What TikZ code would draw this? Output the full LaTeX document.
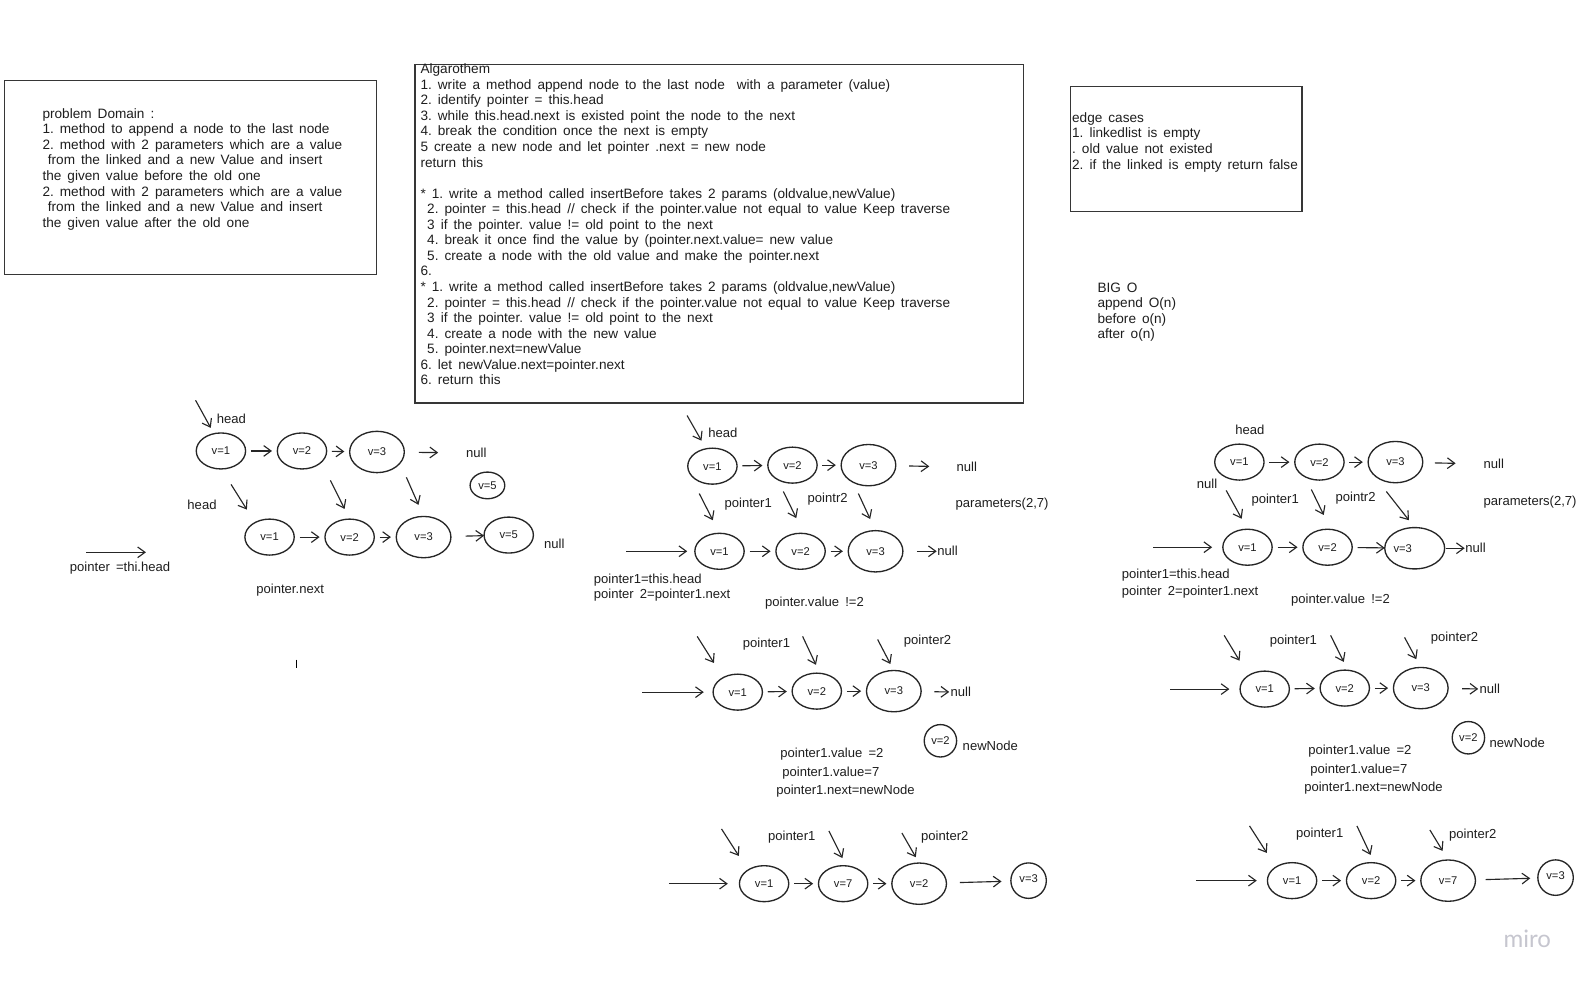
\documentclass[tikz,border=0pt]{standalone}
\usepackage{fontspec}
\setmainfont{Liberation Sans}
\newfontfamily\markfont{Lato}
\usetikzlibrary{shapes.geometric,arrows.meta}

\definecolor{ink}{HTML}{1E1E1E}
\definecolor{stroke}{HTML}{262626}
\definecolor{framec}{HTML}{363636}
\definecolor{watermark}{HTML}{C6C6CF}

% text faces with the wide word spacing of the board's handwriting
\protected\def\handfont{\fontsize{9.8}{11.67}\selectfont\frenchspacing\spaceskip=4.6pt plus 1pt\relax}
\protected\def\parafont{\fontsize{10.2}{11.67}\selectfont\frenchspacing\spaceskip=4.5pt plus 1pt\relax}

\tikzset{
  hand/.style={font=\handfont, text=ink, inner sep=0pt, outer sep=0pt},
  lbl/.style={hand, anchor=west},
  para/.style={font=\parafont, text=ink, inner sep=0pt, outer sep=0pt,
      anchor=north west, align=left},
  cell/.style={ellipse, draw=stroke, line width=1pt, inner sep=0pt, outer sep=0pt,
      minimum width=37pt, minimum height=27pt, font=\fontsize{8.4}{9}\selectfont, text=ink},
  bigcell/.style={cell, minimum width=41pt, minimum height=31pt},
  tinycell/.style={cell, minimum width=26pt, minimum height=20pt},
  roundcell/.style={cell, minimum width=#1, minimum height=#1},
  link/.style={draw=stroke, line width=0.85pt, -{Straight Barb[length=5.5pt,width=8pt]},
      shorten <=4pt, shorten >=4pt},
  drop/.style={link, shorten <=0pt, shorten >=#1},
  frame/.style={draw=framec, line width=1pt, anchor=north west, inner sep=0pt},
}

\begin{document}
\begin{tikzpicture}[x=0.76pt, y=-0.76pt]
\fill[white] (0,0) rectangle (1568,969);
\useasboundingbox (0,0) rectangle (1568,969);

% ---------- problem domain ----------
\node[frame, minimum width=278.9pt, minimum height=145.2pt] (pdbox) at (4,79) {};
\node[para] (pdtext) at (42,107) {problem Domain :\\
1. method to append a node to the last node\\
2. method with 2 parameters which are a value\\
\hspace*{4pt}from the linked and a new Value and insert\\
the given value before the old one\\
2. method with 2 parameters which are a value\\
\hspace*{4pt}from the linked and a new Value and insert\\
the given value after the old one};

% ---------- algorithm ----------
\node[frame, minimum width=456pt, minimum height=253.8pt] (algbox) at (409,63) {};
\node[para] (algtext) at (415,63) {Algarothem\\
1. write a method append node to the last node\ \ with a parameter (value)\\
2. identify pointer = this.head\\
3. while this.head.next is existed point the node to the next\\
4. break the condition once the next is empty\\
5 create a new node and let pointer .next = new node\\
return this\\[11.67pt]
* 1. write a method called insertBefore takes 2 params (oldvalue,newValue)\\
\hspace*{5pt}2. pointer = this.head // check if the pointer.value not equal to value Keep traverse\\
\hspace*{5pt}3 if the pointer. value != old point to the next\\
\hspace*{5pt}4. break it once find the value by (pointer.next.value= new value\\
\hspace*{5pt}5. create a node with the old value and make the pointer.next\\
6.\\
* 1. write a method called insertBefore takes 2 params (oldvalue,newValue)\\
\hspace*{5pt}2. pointer = this.head // check if the pointer.value not equal to value Keep traverse\\
\hspace*{5pt}3 if the pointer. value != old point to the next\\
\hspace*{5pt}4. create a node with the new value\\
\hspace*{5pt}5. pointer.next=newValue\\
6. let newValue.next=pointer.next\\
6. return this};

% ---------- edge cases and complexity ----------
\node[frame, minimum width=173.3pt, minimum height=93.5pt] (edgebox) at (1056,85) {};
\node[para] (edgetext) at (1058,111) {edge cases\\
1. linkedlist is empty\\
. old value not existed\\
2. if the linked is empty return false};
\node[para] (bigo) at (1083,279) {BIG O\\ append O(n)\\ before o(n)\\ after o(n)};

% ---------- append: list before ----------
\node[cell] (a1) at (218,445) {v=1};
\node[cell] (a2) at (298,445) {v=2};
\node[bigcell] (a3) at (372,446) {v=3};
\node[lbl] (anull) at (460,447) {null};
\node[tinycell] (a5) at (481,479) {v=5};
\node[lbl] (ahead) at (214,413) {head};
\coordinate (ahs) at (193,395);
\draw[drop=5pt] (ahs) -- (a1.112);
\draw[link] (a1) -- (a2);
\draw[link] (a2) -- (a3);
\draw[link, shorten <=11pt, shorten >=21pt] (a3) -- (anull);

% ---------- append: list after ----------
\node[cell] (b1) at (266,530) {v=1};
\node[cell] (b2) at (345,530) {v=2};
\node[bigcell] (b3) at (418,530) {v=3};
\node[cell] (b5) at (502,528) {v=5};
\node[lbl] (bnull) at (537,537) {null};
\node[lbl] (bhead) at (185,498) {head};
\draw[link] (b1) -- (b2);
\draw[link] (b2) -- (b3);
\draw[link, shorten <=11pt, shorten >=0pt] (b3) -- (b5);
\coordinate (ad1) at (228,478);
\coordinate (ad2) at (326,474);
\coordinate (ad3) at (401,471);
\draw[drop=11.5pt] (ad1) -- (b1.135);
\draw[drop=8.5pt] (ad2) -- (b2.north);
\draw[drop=9.5pt] (ad3) -- (b3.north);
\coordinate (aps) at (85,545);
\coordinate (ape) at (144,545);
\draw[link, shorten <=0pt, shorten >=0pt] (aps) -- (ape);
\node[lbl] (aptr) at (69,561) {pointer =thi.head};
\node[lbl] (anext) at (253,582) {pointer.next};
\coordinate (ticka) at (292,651);
\coordinate (tickb) at (292,659);
\draw[stroke, line width=0.6pt] (ticka) -- (tickb);

% ---------- insert: first pass ----------
\node[cell] (c1) at (703,460) {v=1};
\node[cell] (c2) at (782,459) {v=2};
\node[bigcell] (c3) at (857,459) {v=3};
\node[lbl] (cnull) at (944,461) {null};
\node[lbl] (chead) at (699,427) {head};
\coordinate (chs) at (678,410);
\draw[drop=7pt] (chs) -- (c1.110);
\draw[link] (c1) -- (c2);
\draw[link] (c2) -- (c3);
\draw[link, shorten <=10pt, shorten >=20.5pt] (c3) -- (cnull);
\node[lbl] (cp1) at (715,497) {pointer1};
\node[lbl] (cp2) at (797,493) {pointr2};
\node[lbl] (cpar) at (943,497) {parameters(2,7)};

\node[cell] (d1) at (710,544) {v=1};
\node[cell] (d2) at (790,544) {v=2};
\node[bigcell] (d3) at (864,544) {v=3};
\node[lbl] (dnull) at (925,544) {null};
\coordinate (ds) at (618,544);
\draw[drop=5.7pt] (ds) -- (d1);
\draw[link] (d1) -- (d2);
\draw[link] (d2) -- (d3);
\draw[link, shorten <=10.5pt, shorten >=0.5pt] (d3) -- (dnull);
\coordinate (cd1) at (690,487);
\coordinate (cd2) at (773,485);
\coordinate (cd3) at (847,487);
\draw[drop=11pt] (cd1) -- (d1.north);
\draw[drop=12.8pt] (cd2) -- (d2.80);
\draw[drop=9.6pt] (cd3) -- (d3.north);
\node[lbl] (dt1) at (586,572) {pointer1=this.head};
\node[lbl] (dt2) at (586,587) {pointer 2=pointer1.next};
\node[lbl] (dt3) at (755,595) {pointer.value !=2};

% ---------- insert: found the value ----------
\node[cell] (e1) at (728,683) {v=1};
\node[cell] (e2) at (806,682) {v=2};
\node[bigcell] (e3) at (882,682) {v=3};
\node[lbl] (enull) at (938,683) {null};
\coordinate (es) at (634,683);
\draw[drop=7pt] (es) -- (e1);
\draw[link] (e1) -- (e2);
\draw[link] (e2) -- (e3);
\draw[link, shorten <=10pt, shorten >=1pt] (e3) -- (enull);
\coordinate (ed1) at (688,628);
\coordinate (ed2) at (792,628);
\coordinate (ed3) at (866,631);
\draw[drop=13pt] (ed1) -- (e1.135);
\draw[drop=7pt] (ed2) -- (e2.80);
\draw[drop=5.5pt] (ed3) -- (e3.north);
\node[lbl] (ep1) at (733,636) {pointer1};
\node[lbl] (ep2) at (892,633) {pointer2};
\node[roundcell=24.3pt] (enew) at (928,731) {v=2};
\node[lbl] (enewl) at (950,736) {newNode};
\node[lbl] (et1) at (770,744) {pointer1.value =2};
\node[lbl] (et2) at (772,763) {pointer1.value=7};
\node[lbl] (et3) at (766,781) {pointer1.next=newNode};

% ---------- insert: result ----------
\node[cell] (f1) at (754,872) {v=1};
\node[cell] (f2) at (832,872) {v=7};
\node[bigcell] (f3) at (907,872) {v=2};
\node[roundcell=26.6pt] (fend) at (1015,869) {\raisebox{2.5pt}{v=3}};
\coordinate (fs) at (660,872);
\draw[drop=8.7pt] (fs) -- (f1);
\draw[link] (f1) -- (f2);
\draw[link] (f2) -- (f3);
\draw[link, shorten <=10pt, shorten >=7pt] (f3) -- (fend);
\coordinate (fd1) at (712,818);
\coordinate (fd2) at (818,820);
\coordinate (fd3) at (890,822);
\draw[drop=12.6pt] (fd1) -- (f1.140);
\draw[drop=6.5pt] (fd2) -- (f2.80);
\draw[drop=5pt] (fd3) -- (f3.north);
\node[lbl] (fp1) at (758,826) {pointer1};
\node[lbl] (fp2) at (909,826) {pointer2};

% ---------- insert after: first pass ----------
\node[cell] (g1) at (1223,456) {v=1};
\node[cell] (g2) at (1302,456) {v=2};
\node[bigcell] (g3) at (1377,456) {v=3};
\node[lbl] (gnull) at (1464,458) {null};
\node[lbl] (ghead) at (1219,424) {head};
\node[lbl] (gnull2) at (1181,477) {null};
\draw[link] (g1) -- (g2);
\draw[link] (g2) -- (g3);
\draw[link, shorten <=9pt, shorten >=21pt] (g3) -- (gnull);
\node[lbl] (gp1) at (1235,494) {pointer1};
\node[lbl] (gp2) at (1318,492) {pointr2};
\node[lbl] (gpar) at (1464,495) {parameters(2,7)};

\node[cell] (h1) at (1231,540) {v=1};
\node[cell] (h2) at (1310,540) {v=2};
\node[bigcell] (h3) at (1396,541) {v=3\kern18pt};
\node[lbl] (hnull) at (1446,541) {null};
\coordinate (hs) at (1138,540);
\draw[drop=8pt] (hs) -- (h1);
\draw[link] (h1) -- (h2);
\draw[link, shorten >=0pt] (h2) -- (h3);
\draw[link, shorten <=1pt, shorten >=0.5pt] (h3) -- (hnull);
\coordinate (gd1) at (1210,484);
\coordinate (gd2) at (1294,483);
\coordinate (gd3) at (1368,485);
\draw[drop=9pt] (gd1) -- (h1.north);
\draw[drop=12pt] (gd2) -- (h2.80);
\draw[drop=7pt] (gd3) -- (h3.north);
\node[lbl] (ht1) at (1107,568) {pointer1=this.head};
\node[lbl] (ht2) at (1107,584) {pointer 2=pointer1.next};
\node[lbl] (ht3) at (1274,592) {pointer.value !=2};

% ---------- insert after: found the value ----------
\node[cell] (i1) at (1248,680) {v=1};
\node[cell] (i2) at (1327,679) {v=2};
\node[bigcell] (i3) at (1402,679) {v=3};
\node[lbl] (inull) at (1460,680) {null};
\coordinate (is) at (1155,680);
\draw[drop=8pt] (is) -- (i1);
\draw[link] (i1) -- (i2);
\draw[link] (i2) -- (i3);
\draw[link, shorten <=10.5pt, shorten >=1pt] (i3) -- (inull);
\coordinate (id1) at (1208,627);
\coordinate (id2) at (1313,627);
\coordinate (id3) at (1386,629);
\draw[drop=13pt] (id1) -- (i1.140);
\draw[drop=7pt] (id2) -- (i2.80);
\draw[drop=7pt] (id3) -- (i3.north);
\node[lbl] (ip1) at (1253,633) {pointer1};
\node[lbl] (ip2) at (1412,630) {pointer2};
\node[roundcell=24.3pt] (inew) at (1449,728) {v=2};
\node[lbl] (inewl) at (1470,733) {newNode};
\node[lbl] (it1) at (1291,741) {pointer1.value =2};
\node[lbl] (it2) at (1293,760) {pointer1.value=7};
\node[lbl] (it3) at (1287,778) {pointer1.next=newNode};

% ---------- insert after: result ----------
\node[cell] (k1) at (1275,869) {v=1};
\node[cell] (k2) at (1353,869) {v=2};
\node[bigcell] (k3) at (1429,869) {v=7};
\node[roundcell=26.6pt] (kend) at (1535,866) {\raisebox{2.5pt}{v=3}};
\coordinate (ks) at (1180,869);
\draw[drop=8pt] (ks) -- (k1);
\draw[link] (k1) -- (k2);
\draw[link] (k2) -- (k3);
\draw[link, shorten <=7.6pt, shorten >=5.7pt] (k3) -- (kend);
\coordinate (kd1) at (1233,815);
\coordinate (kd2) at (1339,815);
\coordinate (kd3) at (1411,819);
\draw[drop=12.6pt] (kd1) -- (k1.140);
\draw[drop=6.5pt] (kd2) -- (k2.80);
\draw[drop=8pt] (kd3) -- (k3.north);
\node[lbl] (kp1) at (1279,823) {pointer1};
\node[lbl] (kp2) at (1430,824) {pointer2};

% ---------- board mark ----------
\node[font=\markfont\fontsize{18}{18}\selectfont, text=watermark, inner sep=0pt] (miro) at (1507,926) {miro};
\end{tikzpicture}
\end{document}
